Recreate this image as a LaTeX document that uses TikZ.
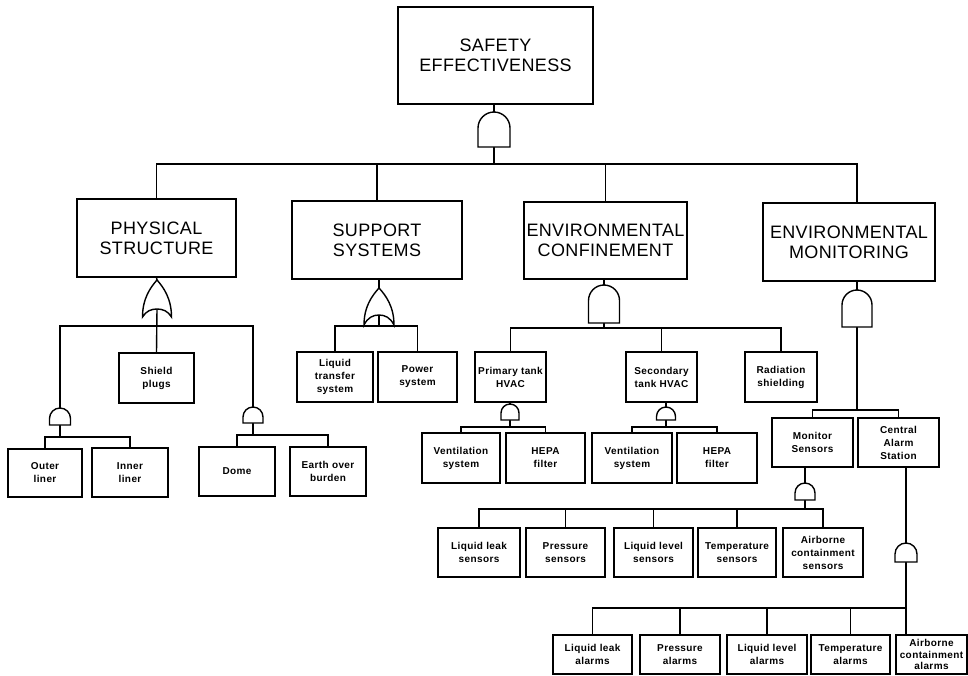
\documentclass[tikz,border=0pt]{standalone}
\usepackage{fontspec}
\setmainfont{Liberation Sans}
\newfontfamily\titlef[LetterSpace=2]{Liberation Sans}
\newfontfamily\smallf[LetterSpace=4]{Liberation Sans}
\tikzset{
  box/.style={draw, line width=1.4pt, inner sep=1pt, align=center},
  tbox/.style={box, font=\titlef\fontsize{18}{20}\selectfont},
  sbox/.style={box, font=\smallf\bfseries\fontsize{10}{13}\selectfont},
  tightbox/.style={box, font=\smallf\bfseries\fontsize{10}{11.5}\selectfont},
  gate/.style={draw, line width=1.4pt, fill=white},
  wire/.style={line width=1.4pt}
}
% box: [style]{name}{x1}{y1}{x2}{y2}{text}
\newcommand\bx[7][sbox]{\node[#1, minimum width={#5pt-#3pt}, minimum height={#6pt-#4pt}] (#2) at ({(#3+#5)/2},{(#4+#6)/2}) {#7};}
% AND gate: {name}{cx}{top}{bottom}{halfwidth}
\newcommand\andgate[5]{%
  \draw[gate] ({#2-#5},#4) -- ({#2-#5},{#3+#5}) .. controls ({#2-#5},{#3+0.45*#5}) and ({#2-0.55*#5},#3) .. (#2,#3)
    .. controls ({#2+0.55*#5},#3) and ({#2+#5},{#3+0.45*#5}) .. ({#2+#5},{#3+#5}) -- ({#2+#5},#4) -- cycle;
  \coordinate (#1in) at (#2,#3); \coordinate (#1out) at (#2,#4);}
% OR gate: {name}{cx}{top}{tip y}{apex y}{halfwidth}
\newcommand\orgate[6]{%
  \draw[gate] (#2,#3) .. controls ({#2-0.45*#6},{#3+0.2*(#4-#3)}) and ({#2-#6},{#3+0.5*(#4-#3)}) .. ({#2-#6},#4)
    .. controls ({#2-0.75*#6},{#5+0.25*(#4-#5)}) and ({#2-0.4*#6},#5) .. (#2,#5)
    .. controls ({#2+0.4*#6},#5) and ({#2+0.75*#6},{#5+0.25*(#4-#5)}) .. ({#2+#6},#4)
    .. controls ({#2+#6},{#3+0.5*(#4-#3)}) and ({#2+0.45*#6},{#3+0.2*(#4-#3)}) .. (#2,#3) -- cycle;
  \coordinate (#1in) at (#2,#3); \coordinate (#1out) at (#2,#5);}
\begin{document}
\begin{tikzpicture}[x=1pt,y=-1pt]
\useasboundingbox (0,0) rectangle (968,675);
\fill[white] (0,0) rectangle (968,675);

% ---- boxes ----
\bx[tbox]{top}{398}{7}{593}{104}{SAFETY\\EFFECTIVENESS}
\bx[tbox]{ps}{77}{199}{236}{277}{PHYSICAL\\STRUCTURE}
\bx[tbox]{ss}{292}{201}{462}{279}{SUPPORT\\SYSTEMS}
\bx[tbox]{ec}{524}{202}{687}{279}{ENVIRONMENTAL\\CONFINEMENT}
\bx[tbox]{em}{763}{203}{935}{281}{ENVIRONMENTAL\\MONITORING}

\bx{shield}{119}{353}{194}{403}{Shield\\plugs}
\bx{outer}{8}{449}{82}{497}{Outer\\liner}
\bx{inner}{92}{448}{168}{497}{Inner\\liner}
\bx{dome}{199}{447}{275}{496}{Dome}
\bx{earth}{290}{447}{366}{496}{Earth over\\burden}

\bx{lts}{297}{352}{373}{402}{Liquid\\transfer\\system}
\bx{pow}{378}{352}{457}{402}{Power\\system}

\bx{prim}{475}{352}{546}{402}{Primary tank\\HVAC}
\bx{sec}{626}{352}{697}{402}{Secondary\\tank HVAC}
\bx{rad}{745}{352}{817}{402}{Radiation\\shielding}
\bx{vent1}{422}{433}{500}{483}{Ventilation\\system}
\bx{hepa1}{506}{433}{585}{483}{HEPA\\filter}
\bx{vent2}{592}{433}{672}{483}{Ventilation\\system}
\bx{hepa2}{677}{433}{757}{483}{HEPA\\filter}

\bx{mon}{772}{418}{853}{467}{Monitor\\Sensors}
\bx{cas}{858}{418}{939}{467}{Central\\Alarm\\Station}

\bx{lls}{438}{528}{520}{577}{Liquid leak\\sensors}
\bx{prs}{526}{528}{605}{577}{Pressure\\sensors}
\bx{lvs}{614}{528}{693}{577}{Liquid level\\sensors}
\bx{tms}{698}{528}{776}{577}{Temperature\\sensors}
\bx{acs}{783}{528}{863}{577}{Airborne\\containment\\sensors}

\bx{lla}{553}{635}{632}{674}{Liquid leak\\alarms}
\bx{pra}{640}{635}{720}{674}{Pressure\\alarms}
\bx{lva}{727}{635}{807}{674}{Liquid level\\alarms}
\bx{tma}{811}{635}{890}{674}{Temperature\\alarms}
\bx[tightbox]{aca}{896}{635}{967}{674}{Airborne\\containment\\alarms}

% ---- gate coordinates (gates drawn later) ----
\coordinate (g0in) at (494,112); \coordinate (g0out) at (494,147);
\coordinate (g6in) at (857,290);

% ---- top level ----
\coordinate (b0) at (494,164);
\draw[wire] (g0in |- top.south) -- (g0in);
\draw[wire] (g0out) -- (b0);
\draw[wire] (ps.north) |- (b0);
\draw[wire] (ss.north) |- (b0);
\draw[wire] (ec.north) |- (b0);
\draw[wire] (g6in |- em.north) |- (b0);

% ---- physical structure ----
\coordinate (b1) at (157,326);
\coordinate (g1ain) at (60,408); \coordinate (g1bin) at (253,407);
\draw[wire] (157,309) -- (shield.north);
\draw[wire] (g1ain) |- (b1);
\draw[wire] (g1bin) |- (b1);
\draw[wire] (ps.south) -- (157,280);
\coordinate (b1a) at (60,437);
\draw[wire] (60,425) -- (b1a);
\draw[wire] (outer.north) |- (b1a);
\draw[wire] (inner.north) |- (b1a);
\coordinate (b1b) at (253,435);
\draw[wire] (253,423) -- (b1b);
\draw[wire] (dome.north) |- (b1b);
\draw[wire] (earth.north) |- (b1b);

% ---- support systems ----
\coordinate (b2) at (379,326);
\draw[wire] (ss.south -| b2) -- (379,288);
\draw[wire] (lts.north) |- (b2);
\draw[wire] (pow.north) |- (b2);

% ---- environmental confinement ----
\coordinate (b3) at (604,328);
\draw[wire] (ec.south -| b3) -- (604,285);
\draw[wire] (604,323) -- (b3);
\draw[wire] (prim.north) |- (b3);
\draw[wire] (sec.north) |- (b3);
\draw[wire] (rad.north) |- (b3);
\coordinate (b4) at (510,427);
\draw[wire] (prim.south -| b4) -- (510,404);
\draw[wire] (510,420) -- (b4);
\draw[wire] (vent1.north) |- (b4);
\draw[wire] (hepa1.north) |- (b4);
\coordinate (b5) at (666,427);
\draw[wire] (sec.south -| b5) -- (666,407);
\draw[wire] (666,420) -- (b5);
\draw[wire] (vent2.north) |- (b5);
\draw[wire] (hepa2.north) |- (b5);

% ---- environmental monitoring ----
\coordinate (b6) at (857,410);
\draw[wire] (g6in |- em.south) -- (g6in);
\draw[wire] (857,327) -- (b6);
\draw[wire] (mon.north) |- (b6);
\draw[wire] (cas.north) |- (b6);
\coordinate (b7) at (805,509);
\draw[wire] (mon.south -| b7) -- (805,483);
\draw[wire] (805,500) -- (b7);
\draw[wire] (lls.north) |- (b7);
\draw[wire] (prs.north) |- (b7);
\draw[wire] (lvs.north) |- (b7);
\draw[wire] (tms.north) |- (b7);
\draw[wire] (acs.north) |- (b7);
\coordinate (b8) at (906,608);
\draw[wire] (cas.south -| b8) -- (906,543);
\draw[wire] (906,562) -- (aca.north -| b8);
\draw[wire] (lla.north) |- (b8);
\draw[wire] (pra.north) |- (b8);
\draw[wire] (lva.north) |- (b8);
\draw[wire] (tma.north) |- (b8);

% ---- gates ----
\andgate{g0}{494}{112}{147}{16}
\orgate{g1}{157}{280}{317}{309}{14.5}
\andgate{g1a}{60}{408}{425}{10.5}
\andgate{g1b}{253}{407}{423}{10}
\orgate{g2}{379}{288}{325}{315}{15}
\draw[wire] (379,315) -- (b2);
\andgate{g3}{604}{285}{323}{15.5}
\andgate{g4}{510}{404}{420}{9}
\andgate{g5}{666}{407}{420}{9.5}
\andgate{g6}{857}{290}{327}{15}
\andgate{g7}{805}{483}{500}{10}
\andgate{g8}{906}{543}{562}{11}
\end{tikzpicture}
\end{document}
